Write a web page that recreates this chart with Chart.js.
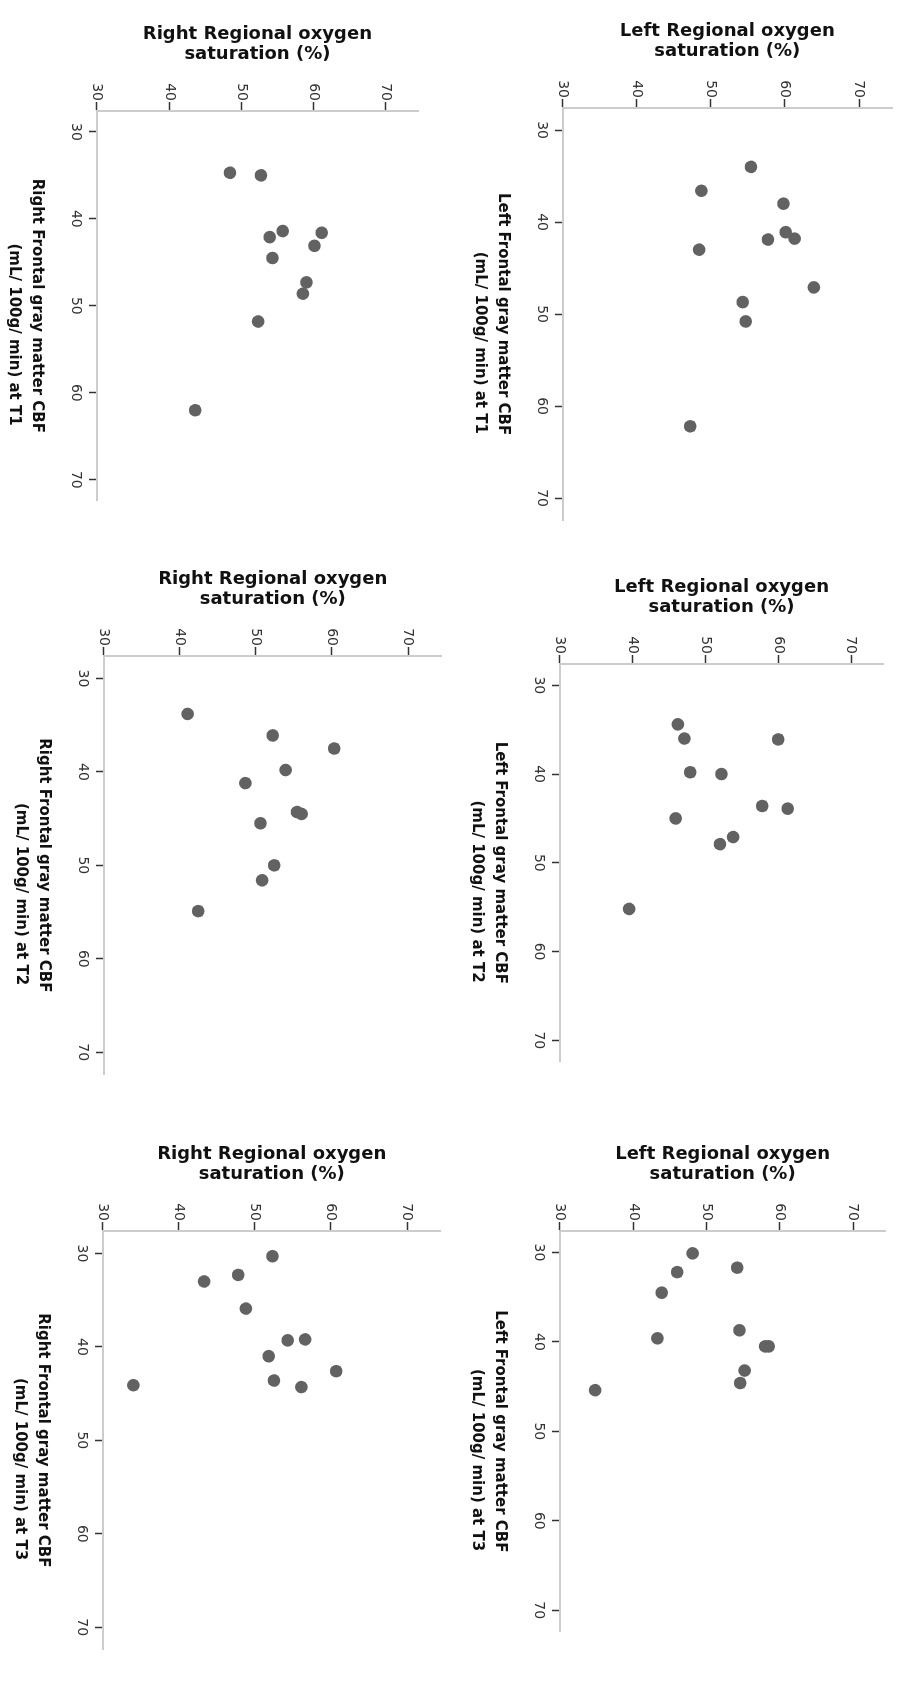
<!DOCTYPE html>
<html>
<head>
<meta charset="utf-8">
<script src="https://cdn.jsdelivr.net/npm/chart.js@4.4.0/dist/chart.umd.min.js"></script>
<style>
    html, body { margin: 0; padding: 0; background: #fff; width: 897px; height: 1688px; overflow: hidden; }
    .panel { position: absolute; transform-origin: 0 0; }
    .panel canvas { display: block; }
</style>
</head>
<body>
<script>
// Axis ticks (both axes run 30..70)
const cbfTicks = [30, 40, 50, 60, 70];
const satTicks = [30, 40, 50, 60, 70];

// Frontal gray matter CBF (x) and regional oxygen saturation (y), one pair of arrays per panel
const rightT1Cbf = [34.7, 35.0, 41.4, 41.6, 42.1, 43.1, 44.5, 47.3, 48.6, 51.8, 62.0];
const rightT1Sat = [48.4, 52.7, 55.7, 61.1, 53.9, 60.1, 54.3, 59.0, 58.5, 52.3, 43.6];

const leftT1Cbf = [34.0, 36.6, 38.0, 41.1, 41.9, 41.8, 43.0, 47.1, 48.7, 50.8, 62.2];
const leftT1Sat = [55.4, 48.7, 59.8, 60.1, 57.7, 61.3, 48.4, 63.9, 54.3, 54.7, 47.2];

const rightT2Cbf = [33.8, 36.1, 37.5, 39.8, 41.2, 44.3, 44.5, 45.5, 50.0, 51.6, 54.9];
const rightT2Sat = [41.0, 52.2, 60.3, 53.9, 48.6, 55.4, 56.0, 50.6, 52.4, 50.8, 42.4];

const leftT2Cbf = [34.4, 36.0, 36.1, 39.8, 40.0, 43.6, 43.9, 45.0, 47.1, 47.9, 55.2];
const leftT2Sat = [46.2, 47.1, 60.0, 47.9, 52.2, 57.8, 61.3, 45.9, 53.8, 52.0, 39.5];

const rightT3Cbf = [30.3, 32.3, 33.0, 35.9, 39.3, 39.2, 41.0, 42.6, 43.6, 44.3, 44.1];
const rightT3Sat = [52.3, 47.8, 43.3, 48.8, 54.3, 56.6, 51.8, 60.7, 52.5, 56.1, 34.0];

const leftT3Cbf = [30.1, 31.7, 32.2, 34.5, 38.7, 39.6, 40.5, 40.5, 43.2, 44.6, 45.4];
const leftT3Sat = [48.1, 54.2, 46.0, 43.9, 54.5, 43.3, 58.0, 58.5, 55.2, 54.6, 34.8];

const panels = [
    { side: 'Right', time: 'T1', cbf: rightT1Cbf, sat: rightT1Sat },
    { side: 'Left',  time: 'T1', cbf: leftT1Cbf,  sat: leftT1Sat },
    { side: 'Right', time: 'T2', cbf: rightT2Cbf, sat: rightT2Sat },
    { side: 'Left',  time: 'T2', cbf: leftT2Cbf,  sat: leftT2Sat },
    { side: 'Right', time: 'T3', cbf: rightT3Cbf, sat: rightT3Sat },
    { side: 'Left',  time: 'T3', cbf: leftT3Cbf,  sat: leftT3Sat }
];

// The figure is printed turned a quarter turn clockwise.
// Page positions (after turning) of the 30 and 70 ticks of each panel.
const placement = [
    { sat30: 97,  sat70: 386, cbf30: 132,  cbf70: 480 },
    { sat30: 563, sat70: 859, cbf30: 130,  cbf70: 498 },
    { sat30: 104, sat70: 408, cbf30: 678,  cbf70: 1052 },
    { sat30: 560, sat70: 851, cbf30: 685,  cbf70: 1040 },
    { sat30: 103, sat70: 407, cbf30: 1253, cbf70: 1627 },
    { sat30: 560, sat70: 853, cbf30: 1252, cbf70: 1610 }
];

const X_MIN = 27.6, X_MAX = 72.4;
const Y_MIN = 30, Y_MAX = 74.4;
const Y_AXIS_W = 87, X_AXIS_H = 95, PAD_TOP = 10;
const FONT = "'DejaVu Sans', sans-serif";

panels.forEach((p, i) => {
    const g = placement[i];
    const pxSat = (g.sat70 - g.sat30) / 40;
    const pxCbf = (g.cbf70 - g.cbf30) / 40;
    const chartW = (X_MAX - X_MIN) * pxCbf;
    const chartH = (Y_MAX - Y_MIN) * pxSat;
    const W = Math.ceil(Y_AXIS_W + chartW + 6);
    const H = Math.ceil(X_AXIS_H + chartH + PAD_TOP);
    const padRight = W - Y_AXIS_W - chartW;
    const padTop = H - X_AXIS_H - chartH;
    const axisLineY = g.cbf30 - (30 - X_MIN) * pxCbf;

    const div = document.createElement('div');
    div.className = 'panel';
    div.style.left = (g.sat30 - X_AXIS_H) + 'px';
    div.style.top = (axisLineY - Y_AXIS_W) + 'px';
    div.style.width = W + 'px';
    div.style.height = H + 'px';
    div.style.transform = `translate(${H}px, 0) rotate(90deg)`;
    const canvas = document.createElement('canvas');
    canvas.width = W;
    canvas.height = H;
    div.appendChild(canvas);
    document.body.appendChild(div);

    new Chart(canvas.getContext('2d'), {
        type: 'scatter',
        data: {
            datasets: [{
                data: p.cbf.map((x, k) => ({ x: x, y: p.sat[k] })),
                backgroundColor: '#626262',
                borderColor: '#626262',
                borderWidth: 0,
                pointRadius: 6.3,
                pointHoverRadius: 6.3
            }]
        },
        options: {
            responsive: false,
            animation: false,
            events: [],
            layout: { padding: { left: 0, top: padTop, right: padRight, bottom: 0 } },
            plugins: { legend: { display: false }, tooltip: { enabled: false } },
            scales: {
                x: {
                    type: 'linear',
                    min: X_MIN,
                    max: X_MAX,
                    afterBuildTicks: s => { s.ticks = cbfTicks.map(v => ({ value: v })); },
                    afterFit: s => { s.height = X_AXIS_H; },
                    grid: { drawOnChartArea: false, drawTicks: true, tickLength: 8, tickColor: '#333', tickWidth: 1.5 },
                    border: { display: true, color: '#cccccc', width: 2 },
                    ticks: { font: { family: FONT, size: 14 }, color: '#333', padding: 5, maxRotation: 0 },
                    title: {
                        display: true,
                        // second line sits a little further along the axis in the original
                        text: [`${p.side} Frontal gray matter CBF`, `           (mL/ 100g/ min) at ${p.time}`],
                        font: { family: FONT, size: 15, weight: 'bold', lineHeight: 1.55 },
                        color: '#111',
                        padding: { top: 0, bottom: 0 }
                    }
                },
                y: {
                    type: 'linear',
                    min: Y_MIN,
                    max: Y_MAX,
                    afterBuildTicks: s => { s.ticks = satTicks.map(v => ({ value: v })); },
                    afterFit: s => { s.width = Y_AXIS_W; },
                    grid: { drawOnChartArea: false, drawTicks: true, tickLength: 9, tickColor: '#333', tickWidth: 1.5 },
                    border: { display: true, color: '#cccccc', width: 2 },
                    ticks: { font: { family: FONT, size: 14 }, color: '#333', padding: 1 },
                    title: {
                        display: true,
                        text: [`${p.side} Regional oxygen`, 'saturation (%)'],
                        font: { family: FONT, size: 18, weight: 'bold', lineHeight: 1.12 },
                        color: '#111',
                        padding: { top: 0, bottom: 0 }
                    }
                }
            }
        }
    });
});
</script>
</body>
</html>
